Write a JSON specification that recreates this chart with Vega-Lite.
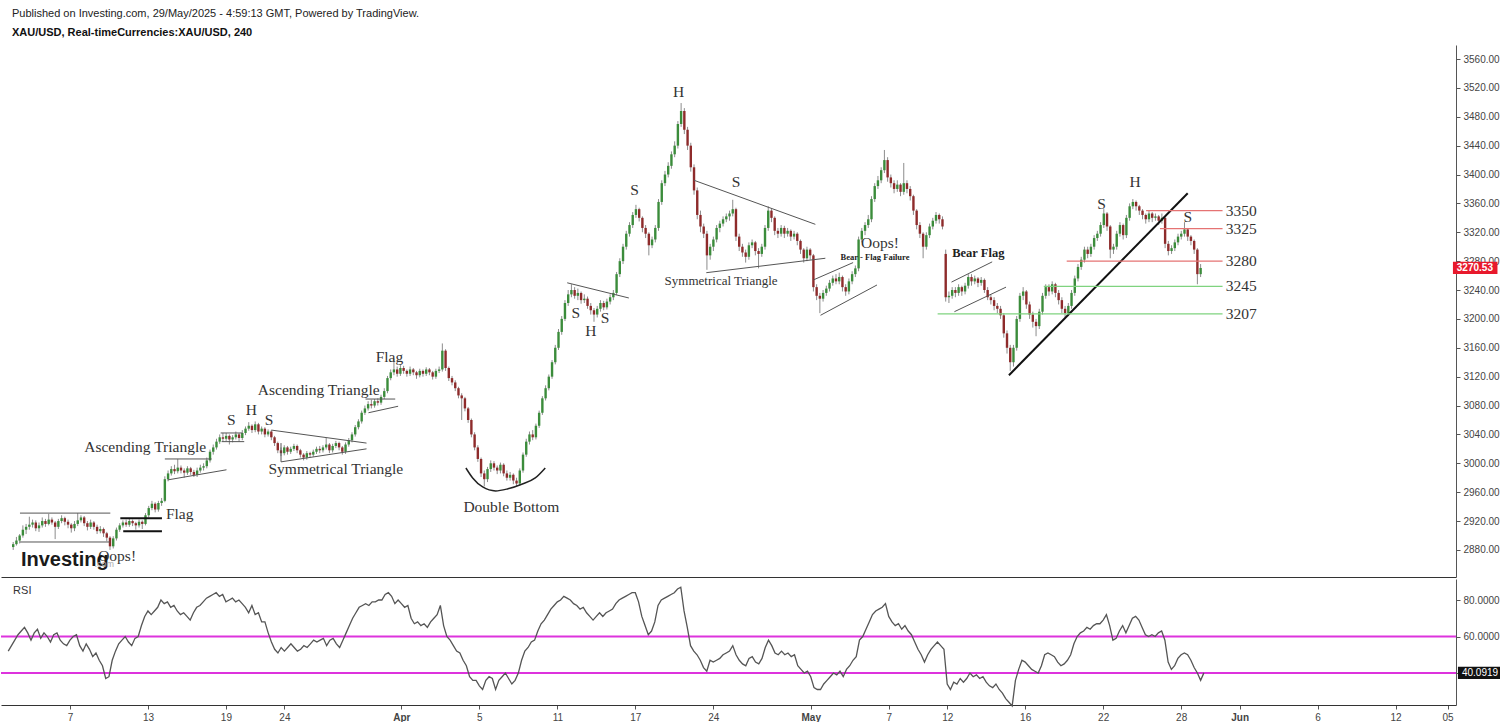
{
"$schema":"https://vega.github.io/schema/vega-lite/v6.json",
"padding":{"left":0,"top":8,"right":0,"bottom":0},
"background":"white",
"spacing":2,
"title":{"text":"Published on Investing.com, 29/May/2025 - 4:59:13 GMT, Powered by TradingView.","subtitle":"XAU/USD, Real-timeCurrencies:XAU/USD, 240","anchor":"start","font":"Liberation Sans","fontSize":11,"fontWeight":"normal","color":"#222","subtitleFont":"Liberation Sans","subtitleFontSize":11,"subtitleFontWeight":"bold","subtitleColor":"#111","subtitlePadding":8,"offset":7,"dx":12},
"datasets":{
"k":[
{"i":5,"o":2884,"h":2891,"l":2880,"c":2888,"r":52},
{"i":6,"o":2888,"h":2898,"l":2886,"c":2893,"r":55},
{"i":7,"o":2893,"h":2902,"l":2889,"c":2900,"r":58},
{"i":8,"o":2900,"h":2914,"l":2897,"c":2908,"r":61},
{"i":9,"o":2908,"h":2916,"l":2902,"c":2912,"r":63},
{"i":10,"o":2912,"h":2926,"l":2908,"c":2915,"r":65},
{"i":11,"o":2915,"h":2922,"l":2911,"c":2918,"r":62},
{"i":12,"o":2918,"h":2921,"l":2906,"c":2910,"r":58},
{"i":13,"o":2910,"h":2918,"l":2905,"c":2914,"r":62},
{"i":14,"o":2914,"h":2925,"l":2911,"c":2920,"r":64},
{"i":15,"o":2920,"h":2923,"l":2912,"c":2916,"r":59},
{"i":16,"o":2916,"h":2930,"l":2914,"c":2922,"r":62},
{"i":17,"o":2922,"h":2925,"l":2915,"c":2918,"r":60},
{"i":18,"o":2918,"h":2920,"l":2895,"c":2912,"r":57},
{"i":19,"o":2912,"h":2923,"l":2909,"c":2920,"r":61},
{"i":20,"o":2920,"h":2928,"l":2917,"c":2924,"r":62},
{"i":21,"o":2924,"h":2926,"l":2914,"c":2919,"r":58},
{"i":22,"o":2919,"h":2922,"l":2910,"c":2915,"r":56},
{"i":23,"o":2915,"h":2917,"l":2904,"c":2910,"r":55},
{"i":24,"o":2910,"h":2920,"l":2906,"c":2916,"r":58},
{"i":25,"o":2916,"h":2931,"l":2913,"c":2921,"r":60},
{"i":26,"o":2921,"h":2928,"l":2918,"c":2925,"r":61},
{"i":27,"o":2925,"h":2927,"l":2913,"c":2917,"r":55},
{"i":28,"o":2917,"h":2920,"l":2907,"c":2912,"r":52},
{"i":29,"o":2912,"h":2922,"l":2909,"c":2918,"r":56},
{"i":30,"o":2918,"h":2920,"l":2908,"c":2912,"r":53},
{"i":31,"o":2912,"h":2915,"l":2902,"c":2906,"r":49},
{"i":32,"o":2906,"h":2913,"l":2903,"c":2909,"r":51},
{"i":33,"o":2909,"h":2911,"l":2898,"c":2903,"r":47},
{"i":34,"o":2903,"h":2905,"l":2892,"c":2897,"r":44},
{"i":35,"o":2897,"h":2899,"l":2880,"c":2885,"r":37},
{"i":36,"o":2885,"h":2899,"l":2882,"c":2896,"r":38},
{"i":37,"o":2896,"h":2911,"l":2893,"c":2908,"r":47},
{"i":38,"o":2908,"h":2917,"l":2905,"c":2914,"r":52},
{"i":39,"o":2914,"h":2921,"l":2911,"c":2918,"r":56},
{"i":40,"o":2918,"h":2922,"l":2912,"c":2915,"r":58},
{"i":41,"o":2915,"h":2923,"l":2912,"c":2920,"r":60},
{"i":42,"o":2920,"h":2922,"l":2913,"c":2917,"r":57},
{"i":43,"o":2917,"h":2919,"l":2908,"c":2914,"r":55},
{"i":44,"o":2914,"h":2922,"l":2911,"c":2919,"r":59},
{"i":45,"o":2919,"h":2921,"l":2909,"c":2916,"r":60},
{"i":46,"o":2916,"h":2931,"l":2914,"c":2928,"r":66},
{"i":47,"o":2928,"h":2941,"l":2925,"c":2938,"r":71},
{"i":48,"o":2938,"h":2948,"l":2935,"c":2944,"r":74},
{"i":49,"o":2944,"h":2946,"l":2932,"c":2936,"r":72},
{"i":50,"o":2936,"h":2948,"l":2933,"c":2945,"r":74},
{"i":51,"o":2945,"h":2952,"l":2941,"c":2948,"r":76},
{"i":52,"o":2948,"h":2982,"l":2946,"c":2978,"r":80},
{"i":53,"o":2978,"h":2990,"l":2975,"c":2986,"r":78},
{"i":54,"o":2986,"h":2996,"l":2983,"c":2992,"r":79},
{"i":55,"o":2992,"h":2998,"l":2985,"c":2989,"r":76},
{"i":56,"o":2989,"h":3006,"l":2986,"c":2994,"r":77},
{"i":57,"o":2994,"h":2997,"l":2986,"c":2990,"r":74},
{"i":58,"o":2990,"h":2993,"l":2980,"c":2987,"r":72},
{"i":59,"o":2987,"h":2996,"l":2984,"c":2993,"r":73},
{"i":60,"o":2993,"h":2995,"l":2984,"c":2988,"r":71},
{"i":61,"o":2988,"h":2991,"l":2981,"c":2984,"r":69},
{"i":62,"o":2984,"h":2994,"l":2981,"c":2990,"r":73},
{"i":63,"o":2990,"h":2998,"l":2987,"c":2994,"r":76},
{"i":64,"o":2994,"h":3000,"l":2990,"c":2996,"r":77},
{"i":65,"o":2996,"h":3008,"l":2993,"c":3004,"r":79},
{"i":66,"o":3004,"h":3019,"l":3001,"c":3016,"r":81},
{"i":67,"o":3016,"h":3026,"l":3012,"c":3022,"r":82},
{"i":68,"o":3022,"h":3034,"l":3019,"c":3030,"r":83},
{"i":69,"o":3030,"h":3040,"l":3027,"c":3036,"r":84},
{"i":70,"o":3036,"h":3042,"l":3030,"c":3034,"r":82},
{"i":71,"o":3034,"h":3042,"l":3031,"c":3038,"r":83},
{"i":72,"o":3038,"h":3040,"l":3026,"c":3033,"r":79},
{"i":73,"o":3033,"h":3039,"l":3029,"c":3036,"r":80},
{"i":74,"o":3036,"h":3044,"l":3033,"c":3040,"r":81},
{"i":75,"o":3040,"h":3042,"l":3030,"c":3035,"r":79},
{"i":76,"o":3035,"h":3046,"l":3032,"c":3042,"r":80},
{"i":77,"o":3042,"h":3051,"l":3039,"c":3048,"r":78},
{"i":78,"o":3048,"h":3057,"l":3045,"c":3052,"r":76},
{"i":79,"o":3052,"h":3054,"l":3042,"c":3046,"r":73},
{"i":80,"o":3046,"h":3058,"l":3043,"c":3054,"r":77},
{"i":81,"o":3054,"h":3056,"l":3040,"c":3044,"r":72},
{"i":82,"o":3044,"h":3051,"l":3040,"c":3048,"r":73},
{"i":83,"o":3048,"h":3050,"l":3036,"c":3040,"r":68},
{"i":84,"o":3040,"h":3047,"l":3037,"c":3044,"r":68},
{"i":85,"o":3044,"h":3046,"l":3032,"c":3036,"r":62},
{"i":86,"o":3036,"h":3038,"l":3024,"c":3028,"r":57},
{"i":87,"o":3028,"h":3030,"l":3014,"c":3018,"r":53},
{"i":88,"o":3018,"h":3022,"l":3010,"c":3014,"r":51},
{"i":89,"o":3014,"h":3025,"l":3011,"c":3022,"r":54},
{"i":90,"o":3022,"h":3024,"l":3012,"c":3016,"r":52},
{"i":91,"o":3016,"h":3023,"l":3013,"c":3020,"r":54},
{"i":92,"o":3020,"h":3027,"l":3017,"c":3024,"r":56},
{"i":93,"o":3024,"h":3026,"l":3014,"c":3018,"r":54},
{"i":94,"o":3018,"h":3020,"l":3008,"c":3012,"r":52},
{"i":95,"o":3012,"h":3014,"l":3004,"c":3008,"r":53},
{"i":96,"o":3008,"h":3017,"l":3005,"c":3014,"r":55},
{"i":97,"o":3014,"h":3016,"l":3008,"c":3012,"r":54},
{"i":98,"o":3012,"h":3019,"l":3009,"c":3016,"r":56},
{"i":99,"o":3016,"h":3023,"l":3013,"c":3020,"r":58},
{"i":100,"o":3020,"h":3024,"l":3014,"c":3018,"r":57},
{"i":101,"o":3018,"h":3025,"l":3015,"c":3022,"r":58},
{"i":102,"o":3022,"h":3035,"l":3019,"c":3026,"r":59},
{"i":103,"o":3026,"h":3028,"l":3014,"c":3018,"r":55},
{"i":104,"o":3018,"h":3027,"l":3015,"c":3024,"r":58},
{"i":105,"o":3024,"h":3031,"l":3021,"c":3028,"r":59},
{"i":106,"o":3028,"h":3030,"l":3018,"c":3022,"r":56},
{"i":107,"o":3022,"h":3024,"l":3012,"c":3016,"r":54},
{"i":108,"o":3016,"h":3029,"l":3013,"c":3026,"r":58},
{"i":109,"o":3026,"h":3035,"l":3023,"c":3032,"r":62},
{"i":110,"o":3032,"h":3043,"l":3029,"c":3040,"r":66},
{"i":111,"o":3040,"h":3053,"l":3037,"c":3050,"r":70},
{"i":112,"o":3050,"h":3061,"l":3047,"c":3058,"r":73},
{"i":113,"o":3058,"h":3073,"l":3055,"c":3070,"r":76},
{"i":114,"o":3070,"h":3080,"l":3067,"c":3076,"r":77},
{"i":115,"o":3076,"h":3086,"l":3073,"c":3082,"r":78},
{"i":116,"o":3082,"h":3088,"l":3076,"c":3080,"r":77},
{"i":117,"o":3080,"h":3089,"l":3077,"c":3086,"r":79},
{"i":118,"o":3086,"h":3090,"l":3080,"c":3084,"r":79},
{"i":119,"o":3084,"h":3095,"l":3081,"c":3092,"r":80},
{"i":120,"o":3092,"h":3104,"l":3089,"c":3100,"r":80},
{"i":121,"o":3100,"h":3121,"l":3097,"c":3118,"r":83},
{"i":122,"o":3118,"h":3130,"l":3115,"c":3126,"r":84},
{"i":123,"o":3126,"h":3145,"l":3122,"c":3130,"r":82},
{"i":124,"o":3130,"h":3134,"l":3120,"c":3124,"r":78},
{"i":125,"o":3124,"h":3136,"l":3121,"c":3132,"r":80},
{"i":126,"o":3132,"h":3135,"l":3124,"c":3128,"r":78},
{"i":127,"o":3128,"h":3130,"l":3120,"c":3124,"r":76},
{"i":128,"o":3124,"h":3134,"l":3121,"c":3130,"r":77},
{"i":129,"o":3130,"h":3132,"l":3122,"c":3126,"r":70},
{"i":130,"o":3126,"h":3128,"l":3117,"c":3122,"r":67},
{"i":131,"o":3122,"h":3131,"l":3119,"c":3128,"r":68},
{"i":132,"o":3128,"h":3130,"l":3120,"c":3124,"r":66},
{"i":133,"o":3124,"h":3133,"l":3121,"c":3130,"r":67},
{"i":134,"o":3130,"h":3132,"l":3122,"c":3126,"r":65},
{"i":135,"o":3126,"h":3128,"l":3116,"c":3120,"r":68},
{"i":136,"o":3120,"h":3131,"l":3117,"c":3128,"r":70},
{"i":137,"o":3128,"h":3134,"l":3125,"c":3130,"r":72},
{"i":138,"o":3130,"h":3166,"l":3127,"c":3156,"r":77},
{"i":139,"o":3156,"h":3158,"l":3128,"c":3132,"r":66},
{"i":140,"o":3132,"h":3134,"l":3114,"c":3118,"r":60},
{"i":141,"o":3118,"h":3121,"l":3108,"c":3112,"r":58},
{"i":142,"o":3112,"h":3115,"l":3100,"c":3104,"r":55},
{"i":143,"o":3104,"h":3106,"l":3090,"c":3094,"r":52},
{"i":144,"o":3094,"h":3097,"l":3060,"c":3090,"r":51},
{"i":145,"o":3090,"h":3092,"l":3072,"c":3076,"r":47},
{"i":146,"o":3076,"h":3078,"l":3056,"c":3060,"r":44},
{"i":147,"o":3060,"h":3062,"l":3036,"c":3040,"r":38},
{"i":148,"o":3040,"h":3043,"l":3018,"c":3022,"r":36},
{"i":149,"o":3022,"h":3025,"l":3002,"c":3006,"r":36},
{"i":150,"o":3006,"h":3008,"l":2981,"c":2986,"r":33},
{"i":151,"o":2986,"h":2990,"l":2968,"c":2978,"r":31},
{"i":152,"o":2978,"h":2995,"l":2974,"c":2992,"r":36},
{"i":153,"o":2992,"h":3004,"l":2988,"c":3000,"r":38},
{"i":154,"o":3000,"h":3003,"l":2990,"c":2994,"r":37},
{"i":155,"o":2994,"h":2997,"l":2985,"c":2990,"r":31},
{"i":156,"o":2990,"h":3001,"l":2986,"c":2998,"r":36},
{"i":157,"o":2998,"h":3000,"l":2982,"c":2986,"r":38},
{"i":158,"o":2986,"h":2990,"l":2976,"c":2980,"r":40},
{"i":159,"o":2980,"h":2988,"l":2976,"c":2984,"r":37},
{"i":160,"o":2984,"h":2986,"l":2971,"c":2976,"r":34},
{"i":161,"o":2976,"h":2980,"l":2968,"c":2972,"r":36},
{"i":162,"o":2972,"h":2993,"l":2969,"c":2990,"r":40},
{"i":163,"o":2990,"h":3015,"l":2987,"c":3012,"r":47},
{"i":164,"o":3012,"h":3034,"l":3009,"c":3030,"r":52},
{"i":165,"o":3030,"h":3044,"l":3026,"c":3040,"r":54},
{"i":166,"o":3040,"h":3046,"l":3032,"c":3036,"r":57},
{"i":167,"o":3036,"h":3055,"l":3033,"c":3052,"r":58},
{"i":168,"o":3052,"h":3073,"l":3049,"c":3070,"r":63},
{"i":169,"o":3070,"h":3093,"l":3067,"c":3090,"r":67},
{"i":170,"o":3090,"h":3108,"l":3087,"c":3104,"r":69},
{"i":171,"o":3104,"h":3123,"l":3101,"c":3120,"r":72},
{"i":172,"o":3120,"h":3143,"l":3117,"c":3140,"r":75},
{"i":173,"o":3140,"h":3164,"l":3137,"c":3160,"r":77},
{"i":174,"o":3160,"h":3186,"l":3157,"c":3182,"r":79},
{"i":175,"o":3182,"h":3204,"l":3178,"c":3200,"r":80},
{"i":176,"o":3200,"h":3226,"l":3197,"c":3222,"r":82},
{"i":177,"o":3222,"h":3240,"l":3218,"c":3234,"r":81},
{"i":178,"o":3234,"h":3248,"l":3230,"c":3240,"r":80},
{"i":179,"o":3240,"h":3244,"l":3228,"c":3232,"r":78},
{"i":180,"o":3232,"h":3242,"l":3226,"c":3236,"r":77},
{"i":181,"o":3236,"h":3238,"l":3221,"c":3226,"r":75},
{"i":182,"o":3226,"h":3234,"l":3222,"c":3228,"r":76},
{"i":183,"o":3228,"h":3231,"l":3214,"c":3218,"r":73},
{"i":184,"o":3218,"h":3222,"l":3206,"c":3212,"r":71},
{"i":185,"o":3212,"h":3215,"l":3196,"c":3206,"r":69},
{"i":186,"o":3206,"h":3218,"l":3202,"c":3214,"r":71},
{"i":187,"o":3214,"h":3226,"l":3210,"c":3222,"r":73},
{"i":188,"o":3222,"h":3225,"l":3212,"c":3216,"r":71},
{"i":189,"o":3216,"h":3228,"l":3213,"c":3224,"r":73},
{"i":190,"o":3224,"h":3234,"l":3220,"c":3230,"r":74},
{"i":191,"o":3230,"h":3240,"l":3226,"c":3236,"r":75},
{"i":192,"o":3236,"h":3265,"l":3233,"c":3262,"r":78},
{"i":193,"o":3262,"h":3284,"l":3258,"c":3280,"r":80},
{"i":194,"o":3280,"h":3304,"l":3276,"c":3300,"r":81},
{"i":195,"o":3300,"h":3322,"l":3296,"c":3318,"r":82},
{"i":196,"o":3318,"h":3334,"l":3314,"c":3330,"r":83},
{"i":197,"o":3330,"h":3348,"l":3326,"c":3344,"r":84},
{"i":198,"o":3344,"h":3358,"l":3340,"c":3352,"r":84},
{"i":199,"o":3352,"h":3354,"l":3335,"c":3340,"r":79},
{"i":200,"o":3340,"h":3342,"l":3320,"c":3326,"r":71},
{"i":201,"o":3326,"h":3330,"l":3312,"c":3318,"r":66},
{"i":202,"o":3318,"h":3320,"l":3288,"c":3302,"r":61},
{"i":203,"o":3302,"h":3314,"l":3298,"c":3310,"r":63},
{"i":204,"o":3310,"h":3330,"l":3306,"c":3326,"r":68},
{"i":205,"o":3326,"h":3366,"l":3322,"c":3362,"r":77},
{"i":206,"o":3362,"h":3392,"l":3358,"c":3388,"r":80},
{"i":207,"o":3388,"h":3405,"l":3384,"c":3400,"r":81},
{"i":208,"o":3400,"h":3417,"l":3396,"c":3412,"r":82},
{"i":209,"o":3412,"h":3432,"l":3408,"c":3428,"r":83},
{"i":210,"o":3428,"h":3446,"l":3424,"c":3440,"r":84},
{"i":211,"o":3440,"h":3474,"l":3436,"c":3470,"r":86},
{"i":212,"o":3470,"h":3499,"l":3466,"c":3488,"r":87},
{"i":213,"o":3488,"h":3492,"l":3456,"c":3462,"r":74},
{"i":214,"o":3462,"h":3466,"l":3434,"c":3440,"r":65},
{"i":215,"o":3440,"h":3444,"l":3404,"c":3410,"r":55},
{"i":216,"o":3410,"h":3414,"l":3372,"c":3378,"r":52},
{"i":217,"o":3378,"h":3382,"l":3338,"c":3344,"r":50},
{"i":218,"o":3344,"h":3350,"l":3320,"c":3328,"r":47},
{"i":219,"o":3328,"h":3332,"l":3312,"c":3318,"r":43},
{"i":220,"o":3318,"h":3322,"l":3268,"c":3288,"r":41},
{"i":221,"o":3288,"h":3304,"l":3282,"c":3300,"r":47},
{"i":222,"o":3300,"h":3314,"l":3294,"c":3310,"r":46},
{"i":223,"o":3310,"h":3330,"l":3306,"c":3326,"r":47},
{"i":224,"o":3326,"h":3336,"l":3320,"c":3332,"r":48},
{"i":225,"o":3332,"h":3342,"l":3328,"c":3338,"r":50},
{"i":226,"o":3338,"h":3346,"l":3334,"c":3342,"r":51},
{"i":227,"o":3342,"h":3350,"l":3336,"c":3346,"r":52},
{"i":228,"o":3346,"h":3365,"l":3342,"c":3352,"r":55},
{"i":229,"o":3352,"h":3354,"l":3308,"c":3314,"r":50},
{"i":230,"o":3314,"h":3318,"l":3294,"c":3300,"r":47},
{"i":231,"o":3300,"h":3304,"l":3286,"c":3292,"r":45},
{"i":232,"o":3292,"h":3296,"l":3278,"c":3286,"r":44},
{"i":233,"o":3286,"h":3306,"l":3282,"c":3302,"r":48},
{"i":234,"o":3302,"h":3310,"l":3298,"c":3306,"r":49},
{"i":235,"o":3306,"h":3308,"l":3288,"c":3294,"r":46},
{"i":236,"o":3294,"h":3298,"l":3270,"c":3290,"r":45},
{"i":237,"o":3290,"h":3304,"l":3286,"c":3300,"r":48},
{"i":238,"o":3300,"h":3330,"l":3296,"c":3326,"r":54},
{"i":239,"o":3326,"h":3356,"l":3322,"c":3350,"r":58},
{"i":240,"o":3350,"h":3353,"l":3334,"c":3340,"r":55},
{"i":241,"o":3340,"h":3342,"l":3316,"c":3322,"r":51},
{"i":242,"o":3322,"h":3326,"l":3312,"c":3318,"r":50},
{"i":243,"o":3318,"h":3330,"l":3314,"c":3326,"r":52},
{"i":244,"o":3326,"h":3329,"l":3312,"c":3318,"r":50},
{"i":245,"o":3318,"h":3326,"l":3314,"c":3322,"r":51},
{"i":246,"o":3322,"h":3324,"l":3308,"c":3314,"r":49},
{"i":247,"o":3314,"h":3322,"l":3310,"c":3318,"r":50},
{"i":248,"o":3318,"h":3320,"l":3302,"c":3308,"r":44},
{"i":249,"o":3308,"h":3310,"l":3290,"c":3296,"r":42},
{"i":250,"o":3296,"h":3298,"l":3278,"c":3284,"r":40},
{"i":251,"o":3284,"h":3300,"l":3280,"c":3296,"r":41},
{"i":252,"o":3296,"h":3298,"l":3282,"c":3288,"r":38},
{"i":253,"o":3288,"h":3290,"l":3238,"c":3244,"r":32},
{"i":254,"o":3244,"h":3248,"l":3226,"c":3232,"r":31},
{"i":255,"o":3232,"h":3236,"l":3208,"c":3228,"r":31},
{"i":256,"o":3228,"h":3240,"l":3224,"c":3236,"r":34},
{"i":257,"o":3236,"h":3246,"l":3232,"c":3242,"r":36},
{"i":258,"o":3242,"h":3254,"l":3238,"c":3250,"r":38},
{"i":259,"o":3250,"h":3260,"l":3246,"c":3256,"r":40},
{"i":260,"o":3256,"h":3262,"l":3248,"c":3252,"r":39},
{"i":261,"o":3252,"h":3264,"l":3248,"c":3258,"r":41},
{"i":262,"o":3258,"h":3260,"l":3238,"c":3244,"r":38},
{"i":263,"o":3244,"h":3248,"l":3232,"c":3238,"r":42},
{"i":264,"o":3238,"h":3256,"l":3234,"c":3252,"r":44},
{"i":265,"o":3252,"h":3266,"l":3248,"c":3262,"r":47},
{"i":266,"o":3262,"h":3274,"l":3258,"c":3270,"r":49},
{"i":267,"o":3270,"h":3314,"l":3266,"c":3310,"r":58},
{"i":268,"o":3310,"h":3326,"l":3306,"c":3322,"r":60},
{"i":269,"o":3322,"h":3334,"l":3316,"c":3330,"r":64},
{"i":270,"o":3330,"h":3344,"l":3326,"c":3338,"r":68},
{"i":271,"o":3338,"h":3370,"l":3334,"c":3366,"r":72},
{"i":272,"o":3366,"h":3388,"l":3362,"c":3384,"r":74},
{"i":273,"o":3384,"h":3398,"l":3380,"c":3392,"r":75},
{"i":274,"o":3392,"h":3410,"l":3388,"c":3406,"r":76},
{"i":275,"o":3406,"h":3434,"l":3402,"c":3420,"r":78},
{"i":276,"o":3420,"h":3424,"l":3390,"c":3396,"r":71},
{"i":277,"o":3396,"h":3400,"l":3382,"c":3388,"r":68},
{"i":278,"o":3388,"h":3392,"l":3374,"c":3380,"r":66},
{"i":279,"o":3380,"h":3392,"l":3376,"c":3386,"r":67},
{"i":280,"o":3386,"h":3388,"l":3370,"c":3376,"r":64},
{"i":281,"o":3376,"h":3416,"l":3372,"c":3388,"r":66},
{"i":282,"o":3388,"h":3392,"l":3374,"c":3380,"r":63},
{"i":283,"o":3380,"h":3384,"l":3364,"c":3370,"r":61},
{"i":284,"o":3370,"h":3372,"l":3344,"c":3350,"r":57},
{"i":285,"o":3350,"h":3352,"l":3324,"c":3330,"r":53},
{"i":286,"o":3330,"h":3334,"l":3312,"c":3318,"r":50},
{"i":287,"o":3318,"h":3320,"l":3284,"c":3300,"r":46},
{"i":288,"o":3300,"h":3320,"l":3296,"c":3316,"r":50},
{"i":289,"o":3316,"h":3332,"l":3312,"c":3328,"r":53},
{"i":290,"o":3328,"h":3340,"l":3324,"c":3336,"r":55},
{"i":291,"o":3336,"h":3348,"l":3332,"c":3344,"r":57},
{"i":292,"o":3344,"h":3346,"l":3332,"c":3338,"r":55},
{"i":293,"o":3338,"h":3342,"l":3324,"c":3328,"r":53},
{"i":294,"o":3290,"h":3296,"l":3224,"c":3230,"r":34},
{"i":295,"o":3230,"h":3238,"l":3222,"c":3232,"r":31},
{"i":296,"o":3232,"h":3244,"l":3228,"c":3240,"r":35},
{"i":297,"o":3240,"h":3244,"l":3230,"c":3236,"r":34},
{"i":298,"o":3236,"h":3248,"l":3232,"c":3244,"r":37},
{"i":299,"o":3244,"h":3246,"l":3232,"c":3238,"r":35},
{"i":300,"o":3238,"h":3250,"l":3234,"c":3246,"r":37},
{"i":301,"o":3246,"h":3262,"l":3242,"c":3258,"r":40},
{"i":302,"o":3258,"h":3262,"l":3246,"c":3252,"r":38},
{"i":303,"o":3252,"h":3260,"l":3248,"c":3256,"r":39},
{"i":304,"o":3256,"h":3258,"l":3244,"c":3250,"r":37},
{"i":305,"o":3250,"h":3258,"l":3246,"c":3254,"r":38},
{"i":306,"o":3254,"h":3256,"l":3236,"c":3240,"r":35},
{"i":307,"o":3240,"h":3244,"l":3226,"c":3230,"r":33},
{"i":308,"o":3230,"h":3234,"l":3220,"c":3226,"r":32},
{"i":309,"o":3226,"h":3230,"l":3212,"c":3218,"r":34},
{"i":310,"o":3218,"h":3222,"l":3208,"c":3214,"r":31},
{"i":311,"o":3214,"h":3218,"l":3200,"c":3205,"r":29},
{"i":312,"o":3205,"h":3208,"l":3174,"c":3180,"r":26},
{"i":313,"o":3180,"h":3184,"l":3152,"c":3160,"r":24},
{"i":314,"o":3160,"h":3164,"l":3128,"c":3140,"r":22},
{"i":315,"o":3140,"h":3164,"l":3134,"c":3160,"r":36},
{"i":316,"o":3160,"h":3204,"l":3156,"c":3200,"r":42},
{"i":317,"o":3200,"h":3236,"l":3196,"c":3232,"r":47},
{"i":318,"o":3232,"h":3244,"l":3226,"c":3238,"r":46},
{"i":319,"o":3238,"h":3240,"l":3214,"c":3220,"r":44},
{"i":320,"o":3220,"h":3224,"l":3200,"c":3206,"r":42},
{"i":321,"o":3206,"h":3210,"l":3188,"c":3196,"r":41},
{"i":322,"o":3196,"h":3200,"l":3176,"c":3190,"r":40},
{"i":323,"o":3190,"h":3214,"l":3186,"c":3210,"r":44},
{"i":324,"o":3210,"h":3236,"l":3206,"c":3232,"r":50},
{"i":325,"o":3232,"h":3248,"l":3228,"c":3244,"r":51},
{"i":326,"o":3244,"h":3248,"l":3232,"c":3238,"r":50},
{"i":327,"o":3238,"h":3252,"l":3234,"c":3248,"r":49},
{"i":328,"o":3248,"h":3250,"l":3230,"c":3236,"r":46},
{"i":329,"o":3236,"h":3240,"l":3220,"c":3226,"r":44},
{"i":330,"o":3226,"h":3230,"l":3208,"c":3214,"r":45},
{"i":331,"o":3214,"h":3218,"l":3202,"c":3208,"r":47},
{"i":332,"o":3208,"h":3222,"l":3204,"c":3218,"r":50},
{"i":333,"o":3218,"h":3240,"l":3214,"c":3236,"r":56},
{"i":334,"o":3236,"h":3260,"l":3232,"c":3256,"r":60},
{"i":335,"o":3256,"h":3276,"l":3252,"c":3272,"r":62},
{"i":336,"o":3272,"h":3286,"l":3268,"c":3282,"r":63},
{"i":337,"o":3282,"h":3300,"l":3278,"c":3296,"r":65},
{"i":338,"o":3296,"h":3300,"l":3284,"c":3290,"r":64},
{"i":339,"o":3290,"h":3304,"l":3286,"c":3300,"r":66},
{"i":340,"o":3300,"h":3316,"l":3296,"c":3312,"r":67},
{"i":341,"o":3312,"h":3322,"l":3308,"c":3318,"r":67},
{"i":342,"o":3318,"h":3334,"l":3314,"c":3330,"r":69},
{"i":343,"o":3330,"h":3352,"l":3326,"c":3346,"r":72},
{"i":344,"o":3346,"h":3348,"l":3322,"c":3328,"r":66},
{"i":345,"o":3328,"h":3330,"l":3284,"c":3296,"r":58},
{"i":346,"o":3296,"h":3304,"l":3290,"c":3300,"r":59},
{"i":347,"o":3300,"h":3322,"l":3296,"c":3318,"r":63},
{"i":348,"o":3318,"h":3334,"l":3314,"c":3330,"r":66},
{"i":349,"o":3330,"h":3332,"l":3310,"c":3316,"r":62},
{"i":350,"o":3316,"h":3344,"l":3312,"c":3340,"r":66},
{"i":351,"o":3340,"h":3360,"l":3336,"c":3356,"r":70},
{"i":352,"o":3356,"h":3366,"l":3352,"c":3362,"r":71},
{"i":353,"o":3362,"h":3364,"l":3350,"c":3356,"r":69},
{"i":354,"o":3356,"h":3358,"l":3344,"c":3350,"r":65},
{"i":355,"o":3350,"h":3352,"l":3338,"c":3344,"r":61},
{"i":356,"o":3344,"h":3346,"l":3332,"c":3338,"r":60},
{"i":357,"o":3338,"h":3350,"l":3334,"c":3346,"r":61},
{"i":358,"o":3346,"h":3348,"l":3334,"c":3340,"r":60},
{"i":359,"o":3340,"h":3346,"l":3336,"c":3342,"r":62},
{"i":360,"o":3342,"h":3344,"l":3330,"c":3336,"r":63},
{"i":361,"o":3336,"h":3346,"l":3332,"c":3340,"r":58},
{"i":362,"o":3340,"h":3342,"l":3298,"c":3304,"r":46},
{"i":363,"o":3304,"h":3308,"l":3288,"c":3294,"r":42},
{"i":364,"o":3294,"h":3302,"l":3290,"c":3298,"r":44},
{"i":365,"o":3298,"h":3310,"l":3294,"c":3306,"r":48},
{"i":366,"o":3306,"h":3318,"l":3302,"c":3314,"r":50},
{"i":367,"o":3314,"h":3322,"l":3310,"c":3318,"r":51},
{"i":368,"o":3318,"h":3334,"l":3314,"c":3324,"r":50},
{"i":369,"o":3324,"h":3326,"l":3308,"c":3314,"r":47},
{"i":370,"o":3314,"h":3316,"l":3302,"c":3308,"r":43},
{"i":371,"o":3308,"h":3310,"l":3290,"c":3296,"r":40},
{"i":372,"o":3296,"h":3298,"l":3248,"c":3262,"r":36},
{"i":373,"o":3262,"h":3276,"l":3258,"c":3270.53,"r":40.09}
],
"ln":[
{"a":7.1,"b":35.1,"p":2931,"q":2931},
{"a":7.1,"b":35.1,"p":2891,"q":2891},
{"a":52,"b":66.5,"p":3006,"q":3006},
{"a":52.9,"b":71.1,"p":2977,"q":2991},
{"a":69.3,"b":76,"p":3042,"q":3042},
{"a":69.6,"b":76.6,"p":3030,"q":3030},
{"a":85,"b":114.5,"p":3046,"q":3028},
{"a":88,"b":114.5,"p":3002,"q":3020},
{"a":88,"b":88,"p":3028,"q":3002},
{"a":114.2,"b":123.4,"p":3089,"q":3089},
{"a":115.1,"b":124.3,"p":3070,"q":3079},
{"a":176.7,"b":195.8,"p":3250,"q":3229},
{"a":216,"b":253.6,"p":3392,"q":3331},
{"a":219.8,"b":256.7,"p":3264,"q":3284},
{"a":253,"b":265.3,"p":3254,"q":3278},
{"a":255.2,"b":272.7,"p":3205,"q":3247},
{"a":295.8,"b":308.4,"p":3251,"q":3279},
{"a":296.7,"b":312.7,"p":3210,"q":3244}
],
"tk":[
{"a":38.2,"b":51.1,"p":2924,"q":2924},
{"a":39.1,"b":51.1,"p":2906,"q":2906},
{"a":313.6,"b":369,"p":3122,"q":3374}
],
"rd":[
{"a":356.1,"b":379.8,"p":3350},
{"a":360.4,"b":379.8,"p":3325},
{"a":331.5,"b":379.8,"p":3280}
],
"gn":[
{"a":324.4,"b":379.8,"p":3245},
{"a":291.5,"b":379.8,"p":3207}
],
"db":[
{"i":145.3,"p":2993.5},
{"i":147.4,"p":2979.7},
{"i":150.5,"p":2967.2},
{"i":154.5,"p":2961.7},
{"i":158.2,"p":2964.5},
{"i":162.8,"p":2971.4},
{"i":166.8,"p":2979.7},
{"i":169.9,"p":2993.5}
],
"tx":[
{"i":37.2,"p":2872,"t":"Oops!"},
{"i":56.6,"p":2930,"t":"Flag"},
{"i":45.9,"p":3023,"t":"Ascending Triangle"},
{"i":72.6,"p":3060,"t":"S"},
{"i":78.8,"p":3074,"t":"H"},
{"i":84.3,"p":3060,"t":"S"},
{"i":105,"p":2992,"t":"Symmetrical Triangle"},
{"i":99.7,"p":3102,"t":"Ascending Triangle"},
{"i":121.6,"p":3147,"t":"Flag"},
{"i":159.4,"p":2939.5,"t":"Double Bottom"},
{"i":179.4,"p":3208,"t":"S"},
{"i":184,"p":3183,"t":"H"},
{"i":188.4,"p":3201,"t":"S"},
{"i":197.6,"p":3379,"t":"S"},
{"i":211.2,"p":3514,"t":"H"},
{"i":229,"p":3390,"t":"S"},
{"i":273.6,"p":3305,"t":"Oops!"},
{"i":342.3,"p":3359,"t":"S"},
{"i":352.7,"p":3390,"t":"H"},
{"i":369,"p":3341,"t":"S"}
],
"tx2":[{"i":224.4,"p":3252.5,"t":"Symmetrical Triangle"}],
"bf":[{"i":304.1,"p":3291.3,"t":"Bear Flag"}],
"bff":[{"i":272.1,"p":3286,"t":"Bear - Flag Failure"}],
"lv":[
{"i":380.8,"p":3350,"t":"3350"},
{"i":380.8,"p":3325,"t":"3325"},
{"i":380.8,"p":3280,"t":"3280"},
{"i":380.8,"p":3245,"t":"3245"},
{"i":380.8,"p":3207,"t":"3207"}
],
"logo":[{"i":7.4,"p":2866,"t":"Investing"}],
"logo2":[{"i":30.2,"p":2860,"t":".com"}],
"pb":[{"a":451.2,"b":465,"p":3279,"q":3262.3,"m":458,"v":3270.6,"t":"3270.53"}],
"rl":[{"v":60},{"v":40.0919}],
"rb":[{"a":451.2,"b":465,"p":43.4,"q":36.8,"m":458,"v":40.1,"t":"40.0919"}],
"rt":[{"i":6.5,"r":84.9,"t":"RSI"}]
},
"vconcat":[
{"width":1455,"height":532,
"layer":[
{"data":{"name":"k"},"mark":{"type":"rule","color":"#8c8c8c","strokeWidth":1},
"encoding":{
"x":{"field":"i","type":"quantitative","title":null,"scale":{"domain":[2.77,450.6],"nice":false,"zero":false},"axis":{"labels":false,"ticks":false,"domain":true,"domainColor":"#333","grid":false,"title":null}},
"y":{"field":"l","type":"quantitative","title":null,"scale":{"domain":[2842.5,3579.4],"nice":false,"zero":false},"axis":{"orient":"right","values":[2880,2920,2960,3000,3040,3080,3120,3160,3200,3240,3280,3320,3360,3400,3440,3480,3520,3560],"tickCount":30,"format":".2f","title":null,"tickSize":4,"labelPadding":3,"grid":false,"domainColor":"#555","labelOverlap":false}},
"y2":{"field":"h"}}},
{"data":{"name":"k"},"mark":{"type":"bar","size":2.4},
"encoding":{"x":{"field":"i","type":"quantitative","title":null},"y":{"field":"o","type":"quantitative","title":null},"y2":{"field":"c"},
"color":{"condition":{"test":"datum.c >= datum.o","value":"#3b8c3b"},"value":"#8e2b2b"}}},
{"data":{"name":"ln"},"mark":{"type":"rule","color":"#555","strokeWidth":1},
"encoding":{"x":{"field":"a","type":"quantitative","title":null},"x2":{"field":"b"},"y":{"field":"p","type":"quantitative","title":null},"y2":{"field":"q"}}},
{"data":{"name":"tk"},"mark":{"type":"rule","color":"#111","strokeWidth":2},
"encoding":{"x":{"field":"a","type":"quantitative","title":null},"x2":{"field":"b"},"y":{"field":"p","type":"quantitative","title":null},"y2":{"field":"q"}}},
{"data":{"name":"rd"},"mark":{"type":"rule","color":"#e57373","strokeWidth":1.2},
"encoding":{"x":{"field":"a","type":"quantitative","title":null},"x2":{"field":"b"},"y":{"field":"p","type":"quantitative","title":null}}},
{"data":{"name":"gn"},"mark":{"type":"rule","color":"#7fd37f","strokeWidth":1.2},
"encoding":{"x":{"field":"a","type":"quantitative","title":null},"x2":{"field":"b"},"y":{"field":"p","type":"quantitative","title":null}}},
{"data":{"name":"db"},"mark":{"type":"line","color":"#222","strokeWidth":1.5,"interpolate":"monotone"},
"encoding":{"x":{"field":"i","type":"quantitative","title":null},"y":{"field":"p","type":"quantitative","title":null}}},
{"data":{"name":"tx"},"mark":{"type":"text","font":"Liberation Serif","fontSize":15.5,"color":"#333","align":"center","baseline":"middle"},
"encoding":{"x":{"field":"i","type":"quantitative","title":null},"y":{"field":"p","type":"quantitative","title":null},"text":{"field":"t"}}},
{"data":{"name":"tx2"},"mark":{"type":"text","font":"Liberation Serif","fontSize":13,"color":"#333","align":"center","baseline":"middle"},
"encoding":{"x":{"field":"i","type":"quantitative","title":null},"y":{"field":"p","type":"quantitative","title":null},"text":{"field":"t"}}},
{"data":{"name":"bf"},"mark":{"type":"text","font":"Liberation Serif","fontSize":12.5,"fontWeight":"bold","color":"#222","align":"center","baseline":"middle"},
"encoding":{"x":{"field":"i","type":"quantitative","title":null},"y":{"field":"p","type":"quantitative","title":null},"text":{"field":"t"}}},
{"data":{"name":"bff"},"mark":{"type":"text","font":"Liberation Serif","fontSize":8.5,"fontWeight":"bold","color":"#222","align":"center","baseline":"middle"},
"encoding":{"x":{"field":"i","type":"quantitative","title":null},"y":{"field":"p","type":"quantitative","title":null},"text":{"field":"t"}}},
{"data":{"name":"lv"},"mark":{"type":"text","font":"Liberation Serif","fontSize":15.5,"color":"#333","align":"left","baseline":"middle"},
"encoding":{"x":{"field":"i","type":"quantitative","title":null},"y":{"field":"p","type":"quantitative","title":null},"text":{"field":"t"}}},
{"data":{"name":"logo"},"mark":{"type":"text","font":"Liberation Sans","fontSize":20,"fontWeight":"bold","color":"#1a1a1a","align":"left","baseline":"middle"},
"encoding":{"x":{"field":"i","type":"quantitative","title":null},"y":{"field":"p","type":"quantitative","title":null},"text":{"field":"t"}}},
{"data":{"name":"logo2"},"mark":{"type":"text","font":"Liberation Sans","fontSize":9,"color":"#aaa","align":"left","baseline":"middle"},
"encoding":{"x":{"field":"i","type":"quantitative","title":null},"y":{"field":"p","type":"quantitative","title":null},"text":{"field":"t"}}},
{"data":{"name":"pb"},"mark":{"type":"rect","color":"#e8192c"},
"encoding":{"x":{"field":"a","type":"quantitative","title":null},"x2":{"field":"b"},"y":{"field":"p","type":"quantitative","title":null},"y2":{"field":"q"}}},
{"data":{"name":"pb"},"mark":{"type":"text","font":"Liberation Sans","fontSize":10,"fontWeight":"bold","color":"white","align":"center","baseline":"middle"},
"encoding":{"x":{"field":"m","type":"quantitative","title":null},"y":{"field":"v","type":"quantitative","title":null},"text":{"field":"t"}}}
]},
{"width":1455,"height":126,
"layer":[
{"data":{"name":"rl"},"mark":{"type":"rule","color":"#dd33dd","strokeWidth":2},
"encoding":{"y":{"field":"v","type":"quantitative","title":null,"scale":{"domain":[22.5,91.5],"nice":false,"zero":false},"axis":{"orient":"right","values":[40,60,80],"tickCount":10,"format":".4f","title":null,"tickSize":4,"labelPadding":3,"grid":false,"domainColor":"#555","labelOverlap":false}}}},
{"data":{"name":"k"},"mark":{"type":"line","color":"#555","strokeWidth":1.3},
"encoding":{
"x":{"field":"i","type":"quantitative","title":null,"scale":{"domain":[2.77,450.6],"nice":false,"zero":false},"axis":{"values":[24,48,72,90,126,150,174,198,222,252,276,294,318,342,366,384,408,432,448],"tickCount":40,"labelExpr":"datum.value==24?'7':datum.value==48?'13':datum.value==72?'19':datum.value==90?'24':datum.value==126?'Apr':datum.value==150?'5':datum.value==174?'11':datum.value==198?'17':datum.value==222?'24':datum.value==252?'May':datum.value==276?'7':datum.value==294?'12':datum.value==318?'16':datum.value==342?'22':datum.value==366?'28':datum.value==384?'Jun':datum.value==408?'6':datum.value==432?'12':'05'","labelFontWeight":{"condition":{"test":"datum.value==126||datum.value==252||datum.value==384","value":"bold"},"value":"normal"},"tickSize":4,"labelPadding":3,"title":null,"grid":false,"domainColor":"#333","labelOverlap":false,"labelFlush":false}},
"y":{"field":"r","type":"quantitative","title":null}}},
{"data":{"name":"rt"},"mark":{"type":"text","font":"Liberation Sans","fontSize":11,"color":"#333","align":"left","baseline":"middle"},
"encoding":{"x":{"field":"i","type":"quantitative","title":null},"y":{"field":"r","type":"quantitative","title":null},"text":{"field":"t"}}},
{"data":{"name":"rb"},"mark":{"type":"rect","color":"#111"},
"encoding":{"x":{"field":"a","type":"quantitative","title":null},"x2":{"field":"b"},"y":{"field":"p","type":"quantitative","title":null},"y2":{"field":"q"}}},
{"data":{"name":"rb"},"mark":{"type":"text","font":"Liberation Sans","fontSize":10,"color":"white","align":"center","baseline":"middle"},
"encoding":{"x":{"field":"m","type":"quantitative","title":null},"y":{"field":"v","type":"quantitative","title":null},"text":{"field":"t"}}}
]}
],
"config":{
"view":{"stroke":null},
"axis":{"labelFont":"Liberation Sans","labelFontSize":10,"labelColor":"#444","tickColor":"#555","domainColor":"#555","grid":false},
"concat":{"spacing":2}
}
}
